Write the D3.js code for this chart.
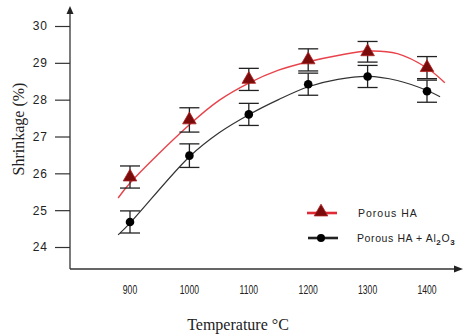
<!DOCTYPE html>
<html>
<head>
<meta charset="utf-8">
<script src="https://cdn.jsdelivr.net/npm/d3@7"></script>
<style>
  body { margin: 0; background: #fff; }
</style>
</head>
<body>
<script>
// measured points
const temps = [900, 1000, 1100, 1200, 1300, 1400];
const haShrink = [25.9, 27.45, 28.55, 29.08, 29.3, 28.87];
const haErr = [0.3, 0.33, 0.3, 0.3, 0.28, 0.3];
const alShrink = [24.68, 26.48, 27.6, 28.42, 28.63, 28.23];
const alErr = [0.3, 0.32, 0.3, 0.3, 0.3, 0.3];

// fitted trend curves
const fitTempsHA = [880, 900, 1000, 1050, 1100, 1150, 1200, 1250, 1300, 1350, 1400, 1430];
const fitHA = [25.33, 25.74, 27.32, 27.98, 28.45, 28.8, 29.03, 29.2, 29.32, 29.25, 28.86, 28.46];
const fitTempsAl = [880, 900, 1000, 1050, 1100, 1150, 1200, 1250, 1300, 1350, 1400, 1422];
const fitAl = [24.33, 24.65, 26.45, 27.1, 27.59, 28.0, 28.35, 28.55, 28.63, 28.52, 28.25, 28.08];

const yTicks = [24, 25, 26, 27, 28, 29, 30];
const xTicks = [900, 1000, 1100, 1200, 1300, 1400];
const seriesNames = ["Porous HA", "Porous HA + Al"];

const width = 463, height = 336;

const svg = d3.select("body").append("svg")
    .attr("width", width)
    .attr("height", height)
    .style("font-family", "Liberation Sans, Arial, sans-serif");

const x = d3.scaleLinear().domain([900, 1400]).range([130, 427]);
const y = d3.scaleLinear().domain([24, 30]).range([247, 26]);

const axisX0 = 70, axisY0 = 269;

// axis lines with arrows
svg.append("line")
    .attr("x1", axisX0).attr("x2", axisX0)
    .attr("y1", axisY0).attr("y2", 12)
    .attr("stroke", "#333").attr("stroke-width", 1.3);
svg.append("path")
    .attr("d", `M${axisX0 - 3.5},14 L${axisX0},6 L${axisX0 + 3.5},14 Z`)
    .attr("fill", "#222");
svg.append("line")
    .attr("x1", axisX0).attr("x2", 456)
    .attr("y1", axisY0).attr("y2", axisY0)
    .attr("stroke", "#333").attr("stroke-width", 1.3);
svg.append("path")
    .attr("d", `M454,${axisY0 - 3.5} L463,${axisY0} L454,${axisY0 + 3.5} Z`)
    .attr("fill", "#222");

// y axis ticks
const yAxis = svg.append("g")
    .attr("transform", `translate(${axisX0},0)`)
    .call(d3.axisLeft(y).tickValues(yTicks).tickSize(15).tickPadding(7).tickFormat(d3.format("d")));
yAxis.select(".domain").remove();
yAxis.selectAll(".tick line").attr("stroke", "#333").attr("stroke-width", 1.2);
yAxis.selectAll(".tick text")
    .attr("fill", "#222")
    .style("font-size", "12px")
    .style("letter-spacing", "1px")
    .style("font-family", "Liberation Sans, Arial, sans-serif");

// x tick labels (no tick marks)
svg.append("g").selectAll("text")
    .data(xTicks)
    .enter().append("text")
    .attr("transform", d => `translate(${x(d)},294) scale(0.72,1)`)
    .attr("text-anchor", "middle")
    .attr("fill", "#222")
    .style("font-size", "12px")
    .text(d => d);

// axis titles
svg.append("text")
    .attr("x", 238).attr("y", 330)
    .attr("text-anchor", "middle")
    .style("font-family", "Liberation Serif, Times New Roman, serif")
    .style("font-size", "16px")
    .attr("fill", "#222")
    .text("Temperature °C");

svg.append("text")
    .attr("transform", "translate(24,129) rotate(-90)")
    .attr("text-anchor", "middle")
    .style("font-family", "Liberation Serif, Times New Roman, serif")
    .style("font-size", "16px")
    .attr("fill", "#222")
    .text("Shrinkage (%)");

// fitted curves
const line = d3.line()
    .x(d => x(d[0]))
    .y(d => y(d[1]))
    .curve(d3.curveCatmullRom);

svg.append("path")
    .attr("d", line(d3.zip(fitTempsHA, fitHA)))
    .attr("fill", "none")
    .attr("stroke", "#e8434b")
    .attr("stroke-width", 1.4);

svg.append("path")
    .attr("d", line(d3.zip(fitTempsAl, fitAl)))
    .attr("fill", "none")
    .attr("stroke", "#333")
    .attr("stroke-width", 1.2);

// error bars
function errorBars(vals, errs) {
    const g = svg.append("g").attr("stroke", "#222").attr("stroke-width", 1.3);
    temps.forEach((t, i) => {
        const cx = x(t), top = y(vals[i] + errs[i]), bot = y(vals[i] - errs[i]);
        g.append("line").attr("x1", cx).attr("x2", cx).attr("y1", top).attr("y2", bot);
        g.append("line").attr("x1", cx - 10).attr("x2", cx + 10).attr("y1", top).attr("y2", top);
        g.append("line").attr("x1", cx - 10).attr("x2", cx + 10).attr("y1", bot).attr("y2", bot);
    });
}
errorBars(haShrink, haErr);
errorBars(alShrink, alErr);

// markers
const tri = d3.symbol().type(d3.symbolTriangle).size(80);

svg.append("g").selectAll("path")
    .data(d3.zip(temps, haShrink))
    .enter().append("path")
    .attr("d", tri)
    .attr("transform", d => `translate(${x(d[0])},${y(d[1])})`)
    .attr("fill", "#7a0b0b")
    .attr("stroke", "#b02020")
    .attr("stroke-width", 0.8);

svg.append("g").selectAll("circle")
    .data(d3.zip(temps, alShrink))
    .enter().append("circle")
    .attr("cx", d => x(d[0]))
    .attr("cy", d => y(d[1]))
    .attr("r", 4.3)
    .attr("fill", "#000");

// legend
const legend = svg.append("g");
legend.append("line")
    .attr("x1", 307).attr("x2", 337).attr("y1", 213).attr("y2", 213)
    .attr("stroke", "#e02a35").attr("stroke-width", 2.6);
legend.append("path")
    .attr("d", tri)
    .attr("transform", "translate(321,212)")
    .attr("fill", "#7a0b0b")
    .attr("stroke", "#b02020")
    .attr("stroke-width", 0.8);
legend.append("text")
    .attr("x", 358).attr("y", 217)
    .style("font-size", "10.5px")
    .style("letter-spacing", "1px")
    .attr("fill", "#222")
    .text(seriesNames[0]);

legend.append("line")
    .attr("x1", 308).attr("x2", 338).attr("y1", 238).attr("y2", 238)
    .attr("stroke", "#222").attr("stroke-width", 2.6);
legend.append("circle")
    .attr("cx", 321).attr("cy", 238).attr("r", 4)
    .attr("fill", "#000");
const t2 = legend.append("text")
    .attr("x", 357).attr("y", 242)
    .style("font-size", "10.5px")
    .style("letter-spacing", "0.6px")
    .attr("fill", "#222");
t2.append("tspan").text(seriesNames[1]);
t2.append("tspan").attr("dy", 3).style("font-size", "8px").style("font-weight", "bold").text("2");
t2.append("tspan").attr("dy", -3).text("O");
t2.append("tspan").attr("dy", 3).style("font-size", "8px").style("font-weight", "bold").text("3");
</script>
</body>
</html>
